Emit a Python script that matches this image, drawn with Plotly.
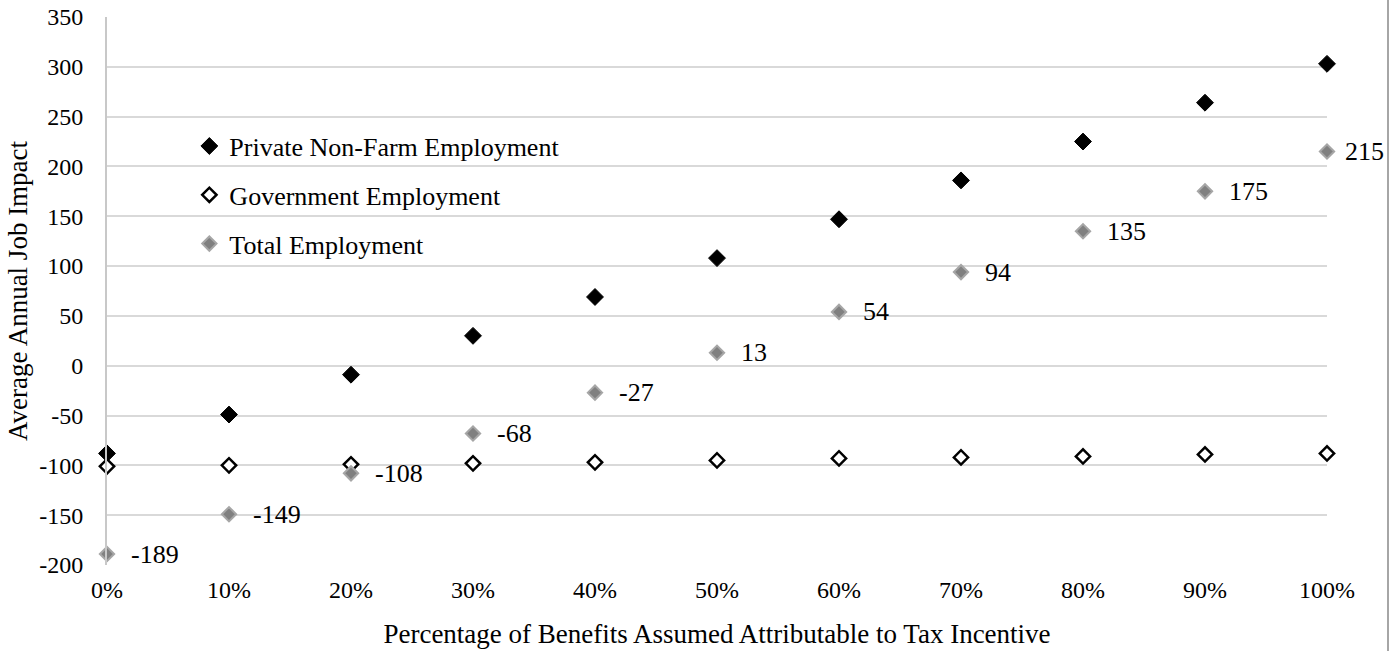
import plotly.graph_objects as go

# Share of benefits attributed to the incentive (percent)
pct = [0, 10, 20, 30, 40, 50, 60, 70, 80, 90, 100]
x_labels = ["0%", "10%", "20%", "30%", "40%", "50%", "60%", "70%", "80%", "90%", "100%"]

# Y-axis ticks (plain hyphen for negatives)
y_ticks = [-200, -150, -100, -50, 0, 50, 100, 150, 200, 250, 300, 350]
y_labels = ["-200", "-150", "-100", "-50", "0", "50", "100", "150", "200", "250", "300", "350"]

# Average annual job impact by employment type
private_jobs = [-88, -49, -9, 30, 69, 108, 147, 186, 225, 264, 303]
government_jobs = [-101, -100, -99, -98, -97, -95, -93, -92, -91, -89, -88]
total_jobs = [-189, -149, -108, -68, -27, 13, 54, 94, 135, 175, 215]

FONT = "Liberation Serif, Times New Roman, serif"
TICK_SIZE = 24
TEXT_SIZE = 26
TITLE_SIZE = 27

fig = go.Figure()

fig.add_trace(go.Scatter(
    x=pct, y=private_jobs, mode="markers", name="Private Non-Farm Employment",
    legendgroup="a",
    marker=dict(symbol="diamond", size=13, color="#000000",
                line=dict(color="#000000", width=1)),
    cliponaxis=False,
))
fig.add_trace(go.Scatter(
    x=pct, y=government_jobs, mode="markers", name="Government Employment",
    legendgroup="b",
    marker=dict(symbol="diamond", size=11, color="#ffffff",
                line=dict(color="#000000", width=2.5)),
    cliponaxis=False,
))
fig.add_trace(go.Scatter(
    x=pct, y=total_jobs, mode="markers", name="Total Employment",
    legendgroup="c",
    marker=dict(symbol="diamond", size=11, color="#808080",
                line=dict(color="#a6a6a6", width=2)),
    cliponaxis=False,
))

# Value labels beside the total-employment markers
for i, (xv, yv) in enumerate(zip(pct, total_jobs)):
    last = i == len(pct) - 1
    fig.add_annotation(
        x=xv, y=yv, text=str(yv), showarrow=False,
        xanchor="left", yanchor="middle",
        xshift=16 if last else 22,
        font=dict(family=FONT, size=TEXT_SIZE, color="#000000"),
    )

# Outer frame edge on the right
fig.add_shape(type="line", xref="paper", yref="paper",
              x0=1.05, x1=1.05, y0=-0.2, y1=1.1,
              line=dict(color="#a6a6a6", width=2))

fig.update_layout(
    width=1397, height=651,
    margin=dict(l=107, r=70, t=17, b=86),
    paper_bgcolor="#ffffff", plot_bgcolor="#ffffff",
    font=dict(family=FONT, size=TICK_SIZE, color="#000000"),
    showlegend=True,
    legend=dict(
        x=0.0675, y=0.675, xanchor="left", yanchor="middle",
        bgcolor="rgba(0,0,0,0)", borderwidth=0,
        font=dict(family=FONT, size=TEXT_SIZE, color="#000000"),
        tracegroupgap=12, traceorder="grouped", itemwidth=30,
    ),
    xaxis=dict(
        range=[0, 100], tickmode="array", tickvals=pct, ticktext=x_labels,
        showgrid=False, zeroline=False, showline=False, ticks="",
        ticklabelstandoff=8, automargin=False,
        tickfont=dict(family=FONT, size=TICK_SIZE, color="#000000"),
        title=dict(text="Percentage of Benefits Assumed Attributable to Tax Incentive",
                   font=dict(family=FONT, size=TITLE_SIZE, color="#000000"), standoff=22),
    ),
    yaxis=dict(
        range=[-200, 350], tickmode="array", tickvals=y_ticks, ticktext=y_labels,
        showgrid=True, gridcolor="#d9d9d9", gridwidth=2,
        zeroline=False, showline=True, linecolor="#c8c8c8", linewidth=2,
        ticks="", ticklabelstandoff=17, automargin=False,
        tickfont=dict(family=FONT, size=TICK_SIZE, color="#000000"),
        title=dict(text="Average Annual Job Impact",
                   font=dict(family=FONT, size=TITLE_SIZE, color="#000000"), standoff=4),
    ),
)

fig.write_html("out.html")
